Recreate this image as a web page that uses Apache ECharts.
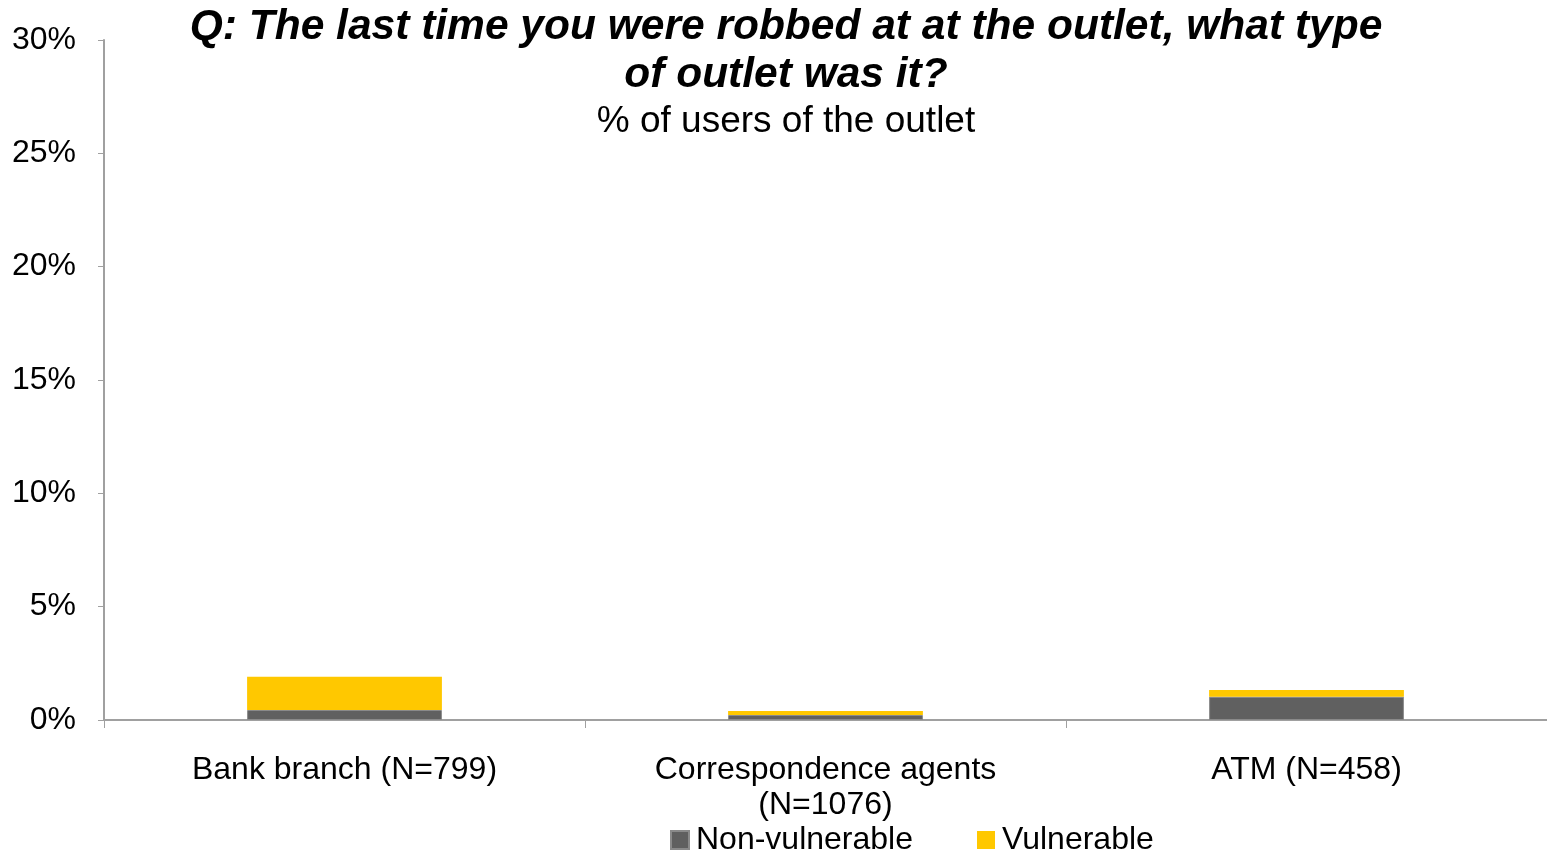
<!DOCTYPE html>
<html>
<head>
<meta charset="utf-8">
<script src="https://cdn.jsdelivr.net/npm/echarts@6/dist/echarts.min.js"></script>
<style>
  html, body { margin: 0; padding: 0; background: #ffffff; }
  #chart { width: 1547px; height: 855px; }
</style>
</head>
<body>
<div id="chart"></div>
<script>
// Outlet types and respondent counts
const categories = ['Bank branch (N=799)', 'Correspondence agents\n(N=1076)', 'ATM (N=458)'];
// Share of users robbed at the outlet (%), split by segment
const nonVulnerable = [0.44, 0.22, 1.03];
const vulnerable = [1.47, 0.18, 0.29];
const seriesNames = ['Non-vulnerable', 'Vulnerable'];

const font = 'Liberation Sans, Arial, Helvetica, sans-serif';
const chart = echarts.init(document.getElementById('chart'));

chart.setOption({
  backgroundColor: '#ffffff',
  animation: false,
  title: {
    text: 'Q: The last time you were robbed at at the outlet, what type\nof outlet was it?',
    subtext: '% of users of the outlet',
    left: 786,
    top: 3,
    padding: 0,
    textAlign: 'center',
    itemGap: 3,
    textStyle: {
      fontFamily: font, fontSize: 42.5, fontWeight: 'bold', fontStyle: 'italic',
      color: '#000000', lineHeight: 48
    },
    subtextStyle: {
      fontFamily: font, fontSize: 37, color: '#000000', lineHeight: 40
    }
  },
  legend: {
    data: seriesNames,
    left: 670,
    top: 824,
    padding: 0,
    itemWidth: 18,
    itemHeight: 18,
    itemGap: 64,
    icon: 'rect',
    textStyle: { fontFamily: font, fontSize: 32, color: '#000000', padding: [0, 0, 0, 2] }
  },
  grid: { left: 104, right: 0, top: 40, bottom: 135, containLabel: false },
  xAxis: {
    type: 'category',
    data: categories,
    boundaryGap: true,
    axisLine: { lineStyle: { color: '#a0a0a0', width: 2 } },
    axisTick: { show: true, length: 8, lineStyle: { color: '#a0a0a0', width: 1 } },
    axisLabel: {
      fontFamily: font, fontSize: 32, color: '#000000', margin: 33, lineHeight: 35,
      interval: 0
    }
  },
  yAxis: {
    type: 'value',
    min: 0,
    max: 30,
    interval: 5,
    splitLine: { show: false },
    axisLine: { show: true, lineStyle: { color: '#a0a0a0', width: 2 } },
    axisTick: { show: true, length: 6, lineStyle: { color: '#a0a0a0', width: 1 } },
    axisLabel: {
      formatter: '{value}%', fontFamily: font, fontSize: 32, color: '#000000', margin: 28
    }
  },
  series: [
    {
      name: seriesNames[0],
      type: 'bar',
      stack: 'total',
      data: nonVulnerable,
      barWidth: '40.5%',
      itemStyle: { color: '#606060', borderColor: '#8a8a8a', borderWidth: 1 }
    },
    {
      name: seriesNames[1],
      type: 'bar',
      stack: 'total',
      data: vulnerable,
      barWidth: '40.5%',
      itemStyle: { color: '#FFC800' }
    }
  ]
});
</script>
</body>
</html>
